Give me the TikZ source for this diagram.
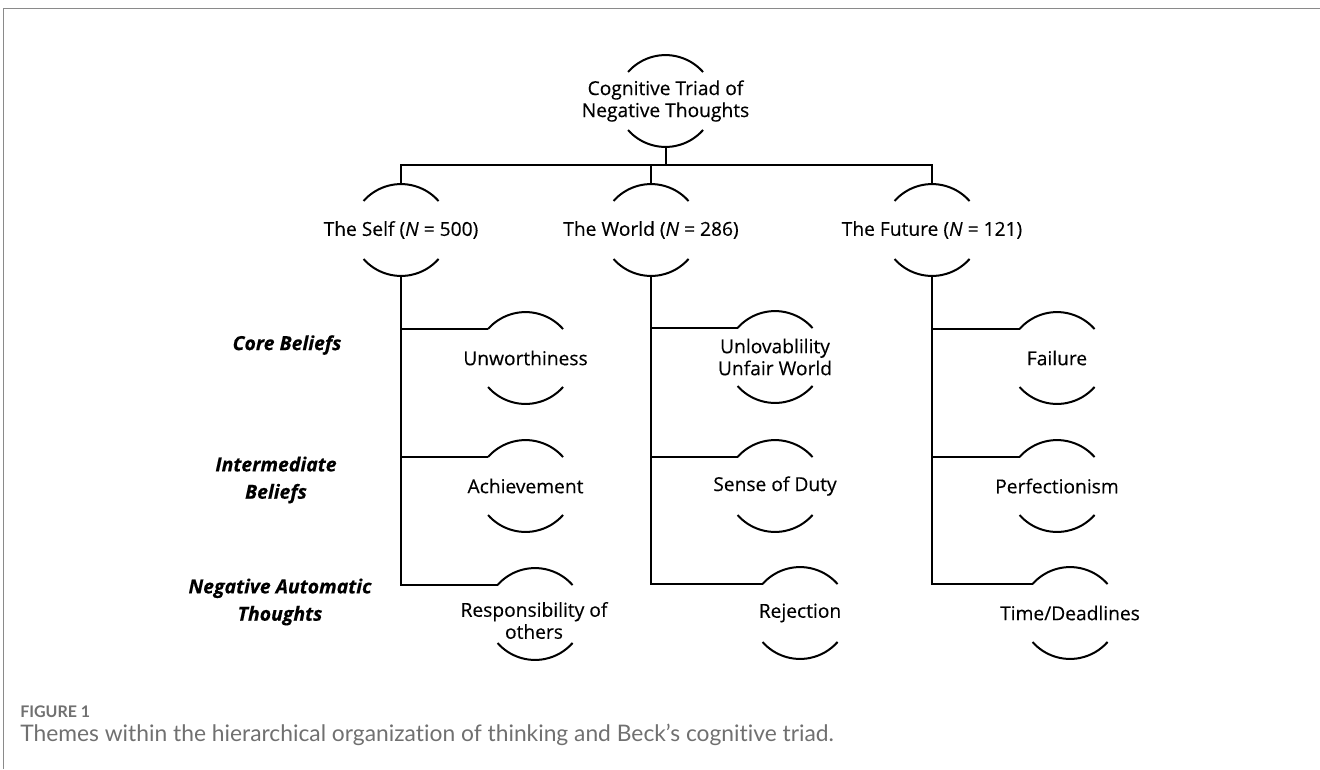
\documentclass[tikz,border=0pt]{standalone}
\usepackage{fontspec}
\setmainfont[FakeBold=0.3]{Open Sans}
\newfontfamily\capfont[Ligatures={NoCommon,NoRare}]{Lato}
\usetikzlibrary{calc}
\definecolor{framegray}{HTML}{8A8A8A}
\definecolor{capgray}{HTML}{707070}
\tikzset{
  conn/.style={line width=1.5pt, black},
  lbl/.style={font=\fontsize{14.4}{16.5}\selectfont, align=center, inner sep=0pt},
  side/.style={font=\fontsize{14.6}{20.5}\selectfont\bfseries\itshape, align=center, inner sep=0pt},
}
\newcommand\caparcs[1]{%
  \draw[conn] ([shift={(-28.1pt,21.75pt)}]#1.center) arc[start angle=138.6,end angle=41.4,radius=37.5pt];
  \draw[conn] ([shift={(-28.1pt,-21.75pt)}]#1.center) arc[start angle=221.4,end angle=318.6,radius=37.5pt];
  \coordinate (#1-tl) at ([shift={(-28.1pt,21.75pt)}]#1.center);
  \coordinate (#1-top) at ([yshift=34.5pt]#1.center);
  \coordinate (#1-bot) at ([yshift=-33.75pt]#1.center);
}
\begin{document}
\begin{tikzpicture}[x=0.75pt,y=-0.75pt]
\useasboundingbox (0,0) rectangle (1320,769);
\draw[framegray, line width=1.2pt] (3.5,769) -- (3.5,8.5) -- (1320,8.5);

% nodes
\node[lbl] (root) at (665.5,101) {Cognitive Triad of\\Negative Thoughts};
\node[lbl] (self) at (401,230) {The Self (\textit{N} = 500)};
\node[lbl] (world) at (651,230) {The World (\textit{N} = 286)};
\node[lbl] (future) at (932,230) {The Future (\textit{N} = 121)};

\node[lbl] (unw) at (525.5,358) {Unworthiness};
\node[lbl] (unl) at (775,357) {Unlovablility\\Unfair World};
\node[lbl] (fail) at (1057,358) {Failure};

\node[lbl] (ach) at (525.5,486) {Achievement};
\node[lbl] (duty) at (775,486) {Sense of Duty};
\node[lbl] (perf) at (1057,486) {Perfectionism};

\node[lbl] (resp) at (534,620.5) {Responsibility of\\others};
\coordinate (respc) at (535,614);
\node[lbl] (rej) at (800,613) {Rejection};
\node[lbl] (time) at (1070,613) {Time/Deadlines};

\node[side] (core) at (287,345) {Core Beliefs};
\node[side] (inter) at (276,480) {Intermediate\\Beliefs};
\node[side] (nat) at (280,602) {Negative Automatic\\Thoughts};

% arcs
\caparcs{root}
\caparcs{self}\caparcs{world}\caparcs{future}
\caparcs{unw}\caparcs{unl}\caparcs{fail}
\caparcs{ach}\caparcs{duty}\caparcs{perf}
\caparcs{respc}\caparcs{rej}\caparcs{time}

% connectors
\coordinate (bus) at (0,165);
\draw[conn] (root-bot) -- (root-bot |- bus);
\draw[conn] (self-top) |- (future-top |- bus) -- (future-top);
\draw[conn] (world-top) -- (world-top |- bus);

\draw[conn] (self-bot) |- (respc-tl);
\draw[conn] (self-bot |- unw-tl) -- (unw-tl);
\draw[conn] (self-bot |- ach-tl) -- (ach-tl);

\draw[conn] (world-bot) |- (rej-tl);
\draw[conn] (world-bot |- unl-tl) -- (unl-tl);
\draw[conn] (world-bot |- duty-tl) -- (duty-tl);

\draw[conn] (future-bot) |- (time-tl);
\draw[conn] (future-bot |- fail-tl) -- (fail-tl);
\draw[conn] (future-bot |- perf-tl) -- (perf-tl);

% caption
\node[anchor=west, inner sep=0pt, text=capgray, font=\capfont\bfseries\fontsize{12}{14}\selectfont] (figlbl) at (20,712) {FIGURE 1};
\node[anchor=west, inner sep=0pt, text=capgray, font=\capfont\fontsize{17.1}{20}\selectfont] (captxt) at (20,735) {Themes within the hierarchical organiza\kern0pt tion of thinking and Beck’s cogni\kern0pt tive triad.};
\end{tikzpicture}
\end{document}
